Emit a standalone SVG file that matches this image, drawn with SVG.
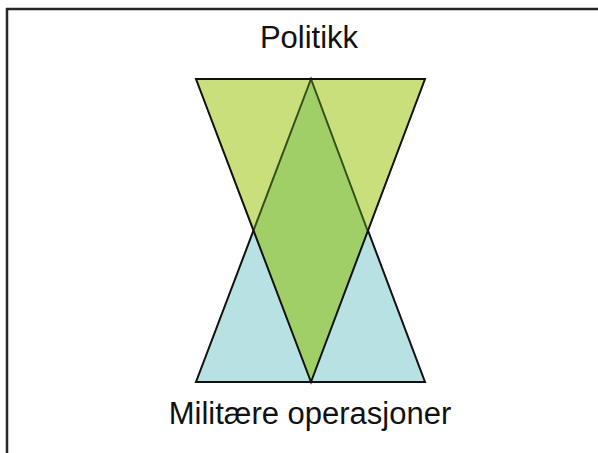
<svg xmlns="http://www.w3.org/2000/svg" width="598" height="453" viewBox="0 0 598 453">
<style>
.lbl{font-family:"Liberation Sans",Arial,sans-serif;font-size:31px;fill:#111;text-anchor:middle}
.edge{stroke:#111;stroke-width:2;stroke-linejoin:miter}
.inner{stroke:#33501a;stroke-width:2;fill:none}
</style>
<rect width="598" height="453" fill="#ffffff"/>
<g id="frame">
<line x1="6" y1="9" x2="598" y2="9" stroke="#262626" stroke-width="2.5"/>
<line x1="7" y1="8" x2="7" y2="453" stroke="#262626" stroke-width="2.5"/>
</g>
<g id="militaere-triangle">
<polygon points="196,382 425,382 311,79" fill="#b8e1e3" class="edge"/>
</g>
<g id="politikk-triangle">
<polygon points="196,79 425,79 311,382" fill="#c9df7c"/>
<polygon points="311,79 367.5,230.5 311,382 253.5,230.5" fill="#9fcf66"/>
<g id="connectors">
<line x1="311" y1="79" x2="253.5" y2="230.5" class="inner"/>
<line x1="311" y1="79" x2="367.5" y2="230.5" class="inner"/>
</g>
<polygon points="196,79 425,79 311,382" fill="none" class="edge"/>
</g>
<g id="label-politikk"><text x="309" y="48" class="lbl">Politikk</text></g>
<g id="label-militaere"><text x="310" y="424" class="lbl">Militære operasjoner</text></g>
</svg>
